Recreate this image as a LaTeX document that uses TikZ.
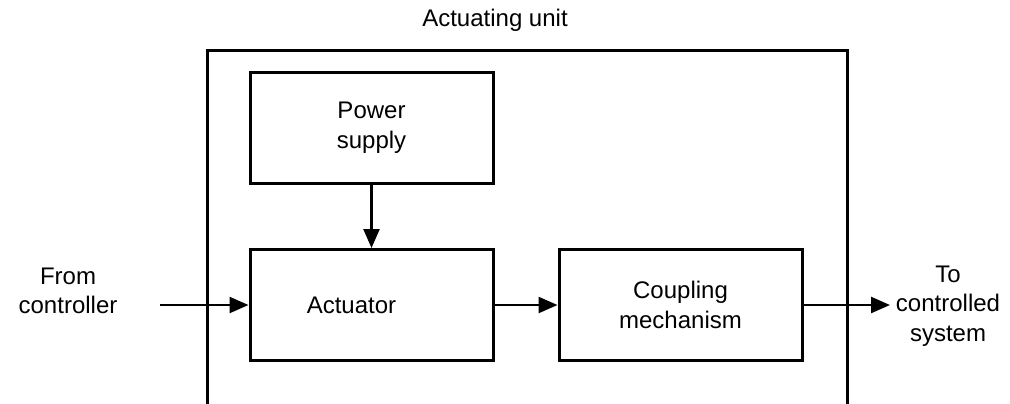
\documentclass[tikz,border=0pt]{standalone}
\usepackage{fontspec}
\setmainfont{Liberation Sans}
\usetikzlibrary{arrows.meta}

\begin{document}
\begin{tikzpicture}[
    x=0.5pt, y=-0.5pt,
    font=\fontsize{12}{14.8}\selectfont,
    block/.style={draw, line width=1.5pt, minimum width=121.5pt, minimum height=55.5pt, align=center},
    txt/.style={align=center},
    arrow/.style={-{Triangle[length=9.5pt, width=8pt]}, line width=1.2pt}
]
\useasboundingbox (0,0) rectangle (1010,403);

% Enclosing unit (open at the bottom)
\begin{scope}
\clip (0,0) rectangle (1010,403);
\draw[line width=1.5pt] (207,410) -- (207,50) -- (847,50) -- (847,410);
\end{scope}
\node[txt] (unit) at (495,20) {Actuating unit};

% Blocks
\node[block] (power) at (371.5,127.5) {Power\\supply};
\node[block, label={[xshift=-10pt]center:Actuator}] (act) at (371.5,305) {};
\node[block] (coup) at (680.5,305) {Coupling\\mechanism};

% In and out
\node[txt] (from) at (68,291) {From\\controller};
\node[txt] (to) at (948,306) {To\\controlled\\system};
\coordinate (in) at (160,305);
\coordinate (out) at (890,305);

% Signal flow
\draw[arrow] (power) -- (act);
\draw[arrow] (in) -- (act);
\draw[arrow] (act) -- (coup);
\draw[arrow] (coup) -- (out);
\end{tikzpicture}
\end{document}
